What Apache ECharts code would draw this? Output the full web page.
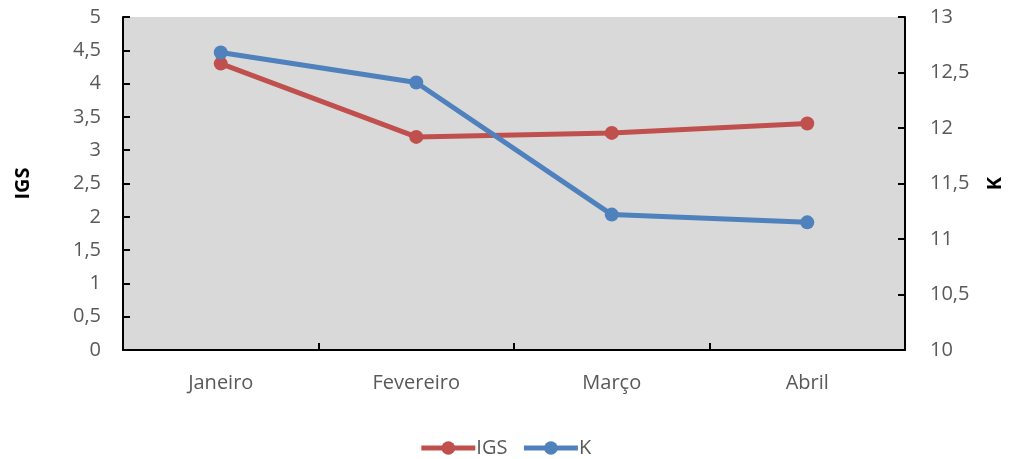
<!DOCTYPE html>
<html>
<head>
<meta charset="utf-8">
<script src="https://cdn.jsdelivr.net/npm/echarts@6/dist/echarts.min.js"></script>
<style>
html,body{margin:0;padding:0;background:#fff;}
#chart{width:1010px;height:459px;}
</style>
</head>
<body>
<div id="chart"></div>
<script>
const categories = ['Janeiro', 'Fevereiro', 'Março', 'Abril'];
const igsValues = [4.30, 3.20, 3.26, 3.40];
const kValues = [12.68, 12.41, 11.22, 11.15];
const seriesNames = ['IGS', 'K'];

const FONT = 'Open Sans';
const labelColor = '#595959';
const FS = 20;

const chart = echarts.init(document.getElementById('chart'));
chart.setOption({
  animation: false,
  textStyle: { fontFamily: FONT },
  legend: {
    top: 433,
    left: 'center',
    itemWidth: 54,
    itemHeight: 17,
    itemGap: 14,
    lineStyle: { width: 5 },
    textStyle: { fontFamily: FONT, fontSize: FS, color: labelColor, padding: [0, 0, 0, -4] },
    data: seriesNames
  },
  grid: { left: 123, right: 105, top: 17, bottom: 109, outerBoundsMode: 'none', containLabel: false,
    backgroundColor: '#D9D9D9', show: true, borderWidth: 0 },
  xAxis: {
    type: 'category',
    data: categories,
    boundaryGap: true,
    axisLine: { lineStyle: { color: '#000', width: 2 } },
    axisTick: { show: true, inside: true, length: 7, lineStyle: { color: '#000', width: 2 } },
    axisLabel: { color: labelColor, fontSize: FS, fontFamily: FONT, margin: 23 },
    splitLine: { show: false }
  },
  yAxis: [
    {
      type: 'value', min: 0, max: 5, interval: 0.5, position: 'left',
      name: 'IGS', nameLocation: 'middle', nameRotate: 90, nameGap: 90,
      nameTextStyle: { fontWeight: 'bold', fontSize: FS, color: '#000', fontFamily: FONT },
      axisLine: { show: true, lineStyle: { color: '#000', width: 2 } },
      axisTick: { show: true, inside: true, length: 7, lineStyle: { color: '#000', width: 2 } },
      axisLabel: { color: labelColor, fontSize: FS, fontFamily: FONT, margin: 22,
        formatter: v => String(v).replace('.', ',') },
      splitLine: { show: false }
    },
    {
      type: 'value', min: 10, max: 13, interval: 0.5, position: 'right',
      name: 'K', nameLocation: 'middle', nameRotate: 90, nameGap: 80,
      nameTextStyle: { fontWeight: 'bold', fontSize: FS, color: '#000', fontFamily: FONT },
      axisLine: { show: true, lineStyle: { color: '#000', width: 2 } },
      axisTick: { show: true, inside: true, length: 7, lineStyle: { color: '#000', width: 2 } },
      axisLabel: { color: labelColor, fontSize: FS, fontFamily: FONT, margin: 25,
        formatter: v => String(v).replace('.', ',') },
      splitLine: { show: false }
    }
  ],
  series: [
    {
      name: seriesNames[0], type: 'line', yAxisIndex: 0, data: igsValues,
      symbol: 'circle', symbolSize: 14,
      lineStyle: { color: '#C0504D', width: 5 },
      itemStyle: { color: '#C0504D' }
    },
    {
      name: seriesNames[1], type: 'line', yAxisIndex: 1, data: kValues,
      symbol: 'circle', symbolSize: 14,
      lineStyle: { color: '#4F81BD', width: 5 },
      itemStyle: { color: '#4F81BD' }
    }
  ]
});
</script>
</body>
</html>
